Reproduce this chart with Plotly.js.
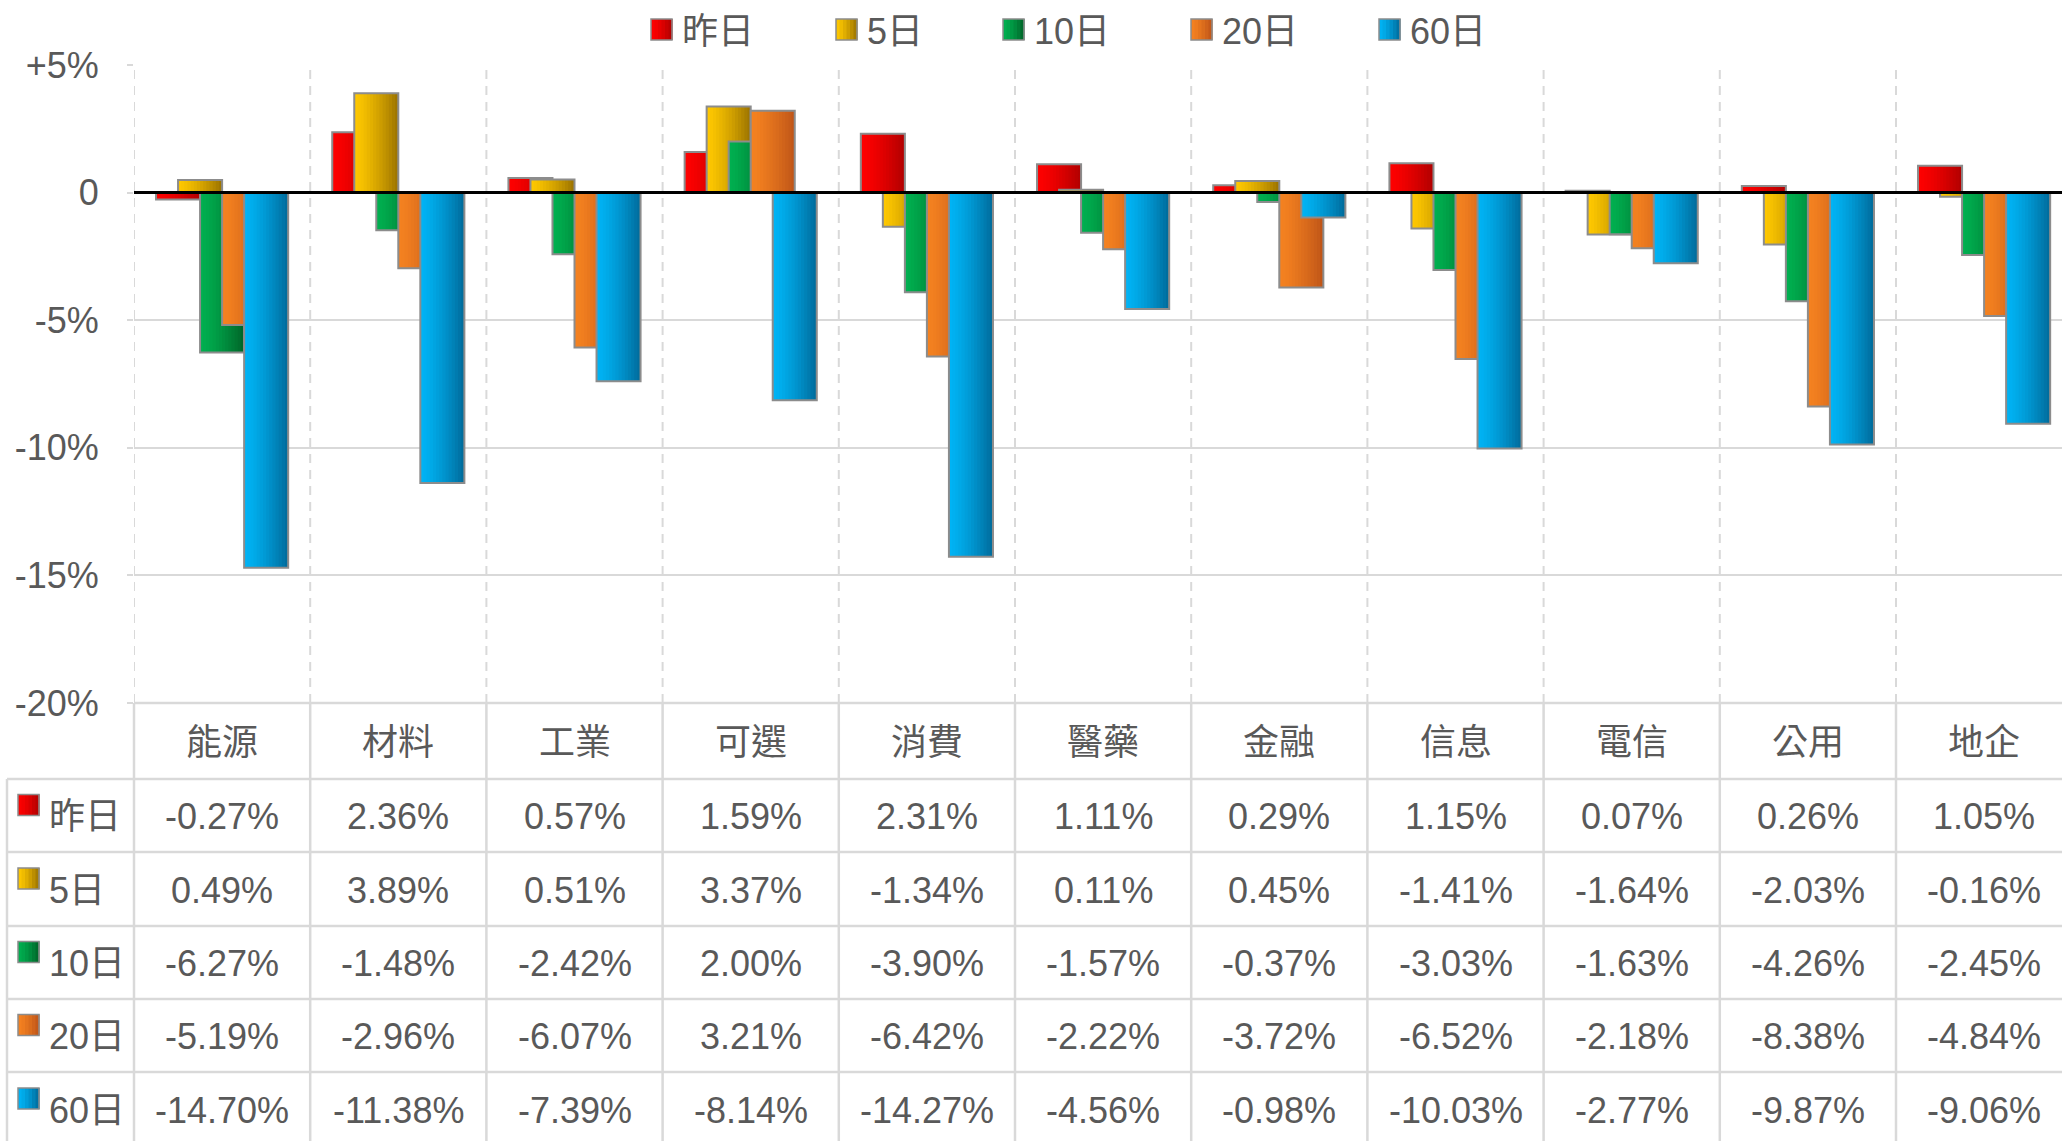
<!DOCTYPE html>
<html><head><meta charset="utf-8">
<script src="https://cdn.plot.ly/plotly-3.0.1.min.js"></script>
<style>html,body{margin:0;padding:0;background:#fff;overflow:hidden;}#chart{width:2062px;height:1141px;}</style>
</head><body><div id="chart"></div>
<script>
// ---------------- data ----------------
const categories = ['能源','材料','工業','可選','消費','醫藥','金融','信息','電信','公用','地企'];
const seriesNames = ['昨日','5日','10日','20日','60日'];
const chgYesterday = [-0.27, 2.36, 0.57, 1.59, 2.31, 1.11, 0.29, 1.15, 0.07, 0.26, 1.05];
const chg5d        = [0.49, 3.89, 0.51, 3.37, -1.34, 0.11, 0.45, -1.41, -1.64, -2.03, -0.16];
const chg10d       = [-6.27, -1.48, -2.42, 2.00, -3.90, -1.57, -0.37, -3.03, -1.63, -4.26, -2.45];
const chg20d       = [-5.19, -2.96, -6.07, 3.21, -6.42, -2.22, -3.72, -6.52, -2.18, -8.38, -4.84];
const chg60d       = [-14.70, -11.38, -7.39, -8.14, -14.27, -4.56, -0.98, -10.03, -2.77, -9.87, -9.06];
const yTickVals = [5, 0, -5, -10, -15, -20];
const yTickText = ['+5%', '0', '-5%', '-10%', '-15%', '-20%'];
const seriesValues = [chgYesterday, chg5d, chg10d, chg20d, chg60d];

// ---------------- style / geometry ----------------
const colorFrom = ['#FF0000', '#FFC800', '#00B050', '#F58220', '#00B4F5'];
const colorTo   = ['#B00000', '#9A7200', '#006428', '#BE5418', '#006A9A'];
const outlineColor = '#8C8C8C';
const gridColor = '#D9D9D9';
const textColor = '#595959';
const FONT = "'Liberation Sans', Arial, 'Noto Sans CJK TC', sans-serif";
const FS = 36;

const W = 2062, H = 1141;
const plotL = 134, plotR = 2062, plotT = 65, plotB = 703;
const catPx = 176.2;
const xMin = -0.5, xMax = -0.5 + (plotR - plotL) / catPx;
const yMin = -20, yMax = 5;
const rowLines = [703, 779, 852, 926, 999, 1072, 1146];
const tableLeft = 7;
const legendX = [651, 836, 1003, 1191, 1379];

const barW = 0.25, barStep = 0.125, firstOffset = -0.375;
const SLICES = 14;

function pxX(p) { return (p - plotL) / (plotR - plotL); }
function pxY(p) { return (plotB - p) / (plotB - plotT); }
function catX(c) { return (c - xMin) / (xMax - xMin); }
function hex2rgb(h) { return [1,3,5].map(i => parseInt(h.substr(i,2),16)); }
function mix(a, b, t) {
  const A = hex2rgb(a), B = hex2rgb(b);
  return 'rgb(' + A.map((v,i) => Math.round(v + (B[i]-v)*t)).join(',') + ')';
}
function gradT(t) { return Math.pow(t, 1.35); }

// ---------------- traces ----------------
const traces = [];
seriesValues.forEach((vals, s) => {
  const base = firstOffset + s * barStep;
  const sw = barW / SLICES;
  for (let k = 0; k < SLICES; k++) {
    const off = base + k * sw;
    const w = Math.min(sw * 1.3, base + barW - off);
    traces.push({
      type: 'bar', x: categories, y: vals, offset: off, width: w,
      marker: { color: mix(colorFrom[s], colorTo[s], gradT((k + 0.5) / SLICES)), line: { width: 0 } },
      showlegend: false, hoverinfo: 'skip'
    });
  }
  traces.push({
    type: 'bar', x: categories, y: vals, offset: base, width: barW, name: seriesNames[s],
    marker: { color: 'rgba(0,0,0,0)', line: { color: outlineColor, width: 2 } },
    showlegend: false, hovertemplate: '%{x} ' + seriesNames[s] + ': %{y:.2f}%<extra></extra>'
  });
});

// ---------------- shapes ----------------
const shapes = [];
// vertical dashed gridlines at category boundaries
for (let i = 0; i <= categories.length; i++) {
  const c = i - 0.5;
  if (c > xMax) break;
  shapes.push({ type: 'line', xref: 'x', yref: 'y', x0: c, x1: c, y0: yMin, y1: yMax,
    line: { color: gridColor, width: 2, dash: '9px,7px' }, layer: 'below' });
}
// table horizontal lines
rowLines.forEach((p, i) => {
  shapes.push({ type: 'line', xref: 'paper', yref: 'paper',
    x0: i === 0 ? 0 : pxX(tableLeft), x1: 1, y0: pxY(p), y1: pxY(p),
    line: { color: gridColor, width: 2.5 } });
});
// table vertical lines
shapes.push({ type: 'line', xref: 'paper', yref: 'paper', x0: pxX(tableLeft), x1: pxX(tableLeft),
  y0: pxY(rowLines[1]), y1: pxY(H + 5), line: { color: gridColor, width: 2.5 } });
for (let i = 0; i <= categories.length; i++) {
  const c = i - 0.5;
  if (c > xMax) break;
  shapes.push({ type: 'line', xref: 'paper', yref: 'paper', x0: catX(c), x1: catX(c),
    y0: pxY(rowLines[0]), y1: pxY(H + 5), line: { color: gridColor, width: 2.5 } });
}
// zero line above bars
shapes.push({ type: 'line', xref: 'paper', yref: 'y', x0: 0, x1: 1, y0: 0, y1: 0,
  line: { color: '#000000', width: 3 }, layer: 'above' });

function gradientSquare(x0, y0, size, s) {
  const n = 6;
  for (let k = 0; k < n; k++) {
    shapes.push({ type: 'rect', xref: 'paper', yref: 'paper',
      x0: pxX(x0 + size * k / n), x1: pxX(x0 + size * (k + 1) / n + 0.6),
      y0: pxY(y0), y1: pxY(y0 + size), line: { width: 0 },
      fillcolor: mix(colorFrom[s], colorTo[s], gradT((k + 0.5) / n)) });
  }
  shapes.push({ type: 'rect', xref: 'paper', yref: 'paper',
    x0: pxX(x0), x1: pxX(x0 + size), y0: pxY(y0), y1: pxY(y0 + size),
    line: { color: outlineColor, width: 1.5 }, fillcolor: 'rgba(0,0,0,0)' });
}

// ---------------- annotations ----------------
const annotations = [];
const txtFont = { family: FONT, size: FS, color: textColor };
// custom legend (top)
seriesNames.forEach((nm, s) => {
  gradientSquare(legendX[s], 19, 21, s);
  annotations.push({ xref: 'paper', yref: 'paper', x: pxX(legendX[s] + 29), y: pxY(31),
    xanchor: 'left', yanchor: 'middle', text: nm, showarrow: false, font: txtFont });
});
// header row
const headerY = (rowLines[0] + rowLines[1]) / 2 + 2;
categories.forEach((c) => {
  annotations.push({ xref: 'x', yref: 'paper', x: c, y: pxY(headerY), xanchor: 'center', yanchor: 'middle',
    text: c, showarrow: false, font: txtFont });
});
// data rows
seriesValues.forEach((vals, s) => {
  const cy = (rowLines[s + 1] + rowLines[s + 2]) / 2;
  gradientSquare(18, cy - 21, 21, s);
  annotations.push({ xref: 'paper', yref: 'paper', x: pxX(47), y: pxY(cy + 1), xanchor: 'left', yanchor: 'middle',
    text: seriesNames[s], showarrow: false, font: txtFont });
  vals.forEach((v, i) => {
    annotations.push({ xref: 'x', yref: 'paper', x: categories[i], y: pxY(cy + 1), xanchor: 'center', yanchor: 'middle',
      text: v.toFixed(2) + '%', showarrow: false, font: txtFont });
  });
});

const layout = {
  width: W, height: H,
  margin: { l: plotL, r: W - plotR, t: plotT, b: H - plotB, pad: 0 },
  paper_bgcolor: '#ffffff', plot_bgcolor: '#ffffff',
  barmode: 'overlay',
  showlegend: false,
  font: { family: FONT, color: textColor, size: FS },
  xaxis: { type: 'category', range: [xMin, xMax], showticklabels: false, showgrid: false,
    zeroline: false, showline: false, ticks: '', fixedrange: true },
  yaxis: { range: [yMin, yMax], tickvals: yTickVals, ticktext: yTickText, showgrid: true,
    gridcolor: gridColor, gridwidth: 2, zeroline: false, showline: false,
    ticks: 'outside', ticklen: 6, tickcolor: gridColor, tickwidth: 2, ticklabelstandoff: 21,
    tickfont: { family: FONT, size: FS, color: textColor }, fixedrange: true },
  shapes: shapes,
  annotations: annotations
};

Plotly.newPlot('chart', traces, layout, { displayModeBar: false, staticPlot: false });
</script>
</body></html>
